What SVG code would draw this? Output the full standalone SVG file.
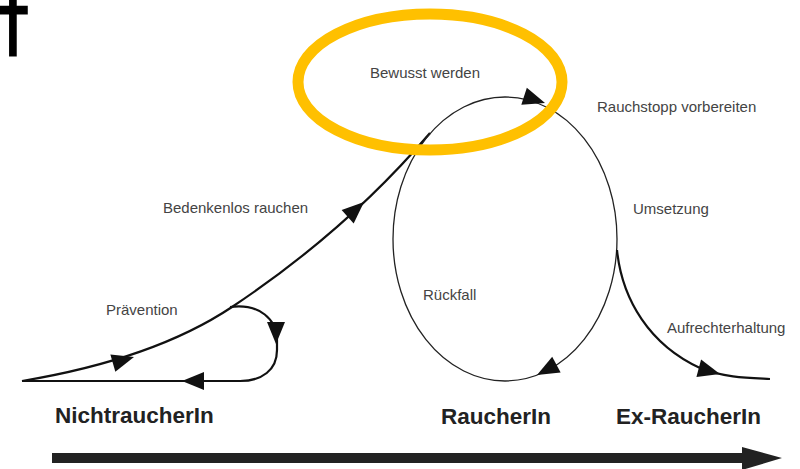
<svg xmlns="http://www.w3.org/2000/svg" width="800" height="469" viewBox="0 0 800 469">
<style>
.lbl{font-family:"Liberation Sans",Arial,sans-serif;font-size:15px;fill:#444}
.st{font-family:"Liberation Sans",Arial,sans-serif;font-size:22.5px;font-weight:bold;fill:#222}
.thick{fill:none;stroke:#111;stroke-width:2.2}
.thin{fill:none;stroke:#222;stroke-width:1.3}
.ah{fill:#111}
</style>
<defs>
<path id="ah" d="M0,0 L-22,-9 L-22,9 Z"/>
</defs>
<rect width="800" height="469" fill="#fff"/>
<g id="dagger"><text transform="translate(13,47) scale(0.8,1)" text-anchor="middle" style="font-family:'DejaVu Sans',sans-serif;font-size:77px;fill:#000;stroke:#000;stroke-width:3">†</text></g>
<g id="connectors">
<path class="thick" d="M22,381 C100,368 175,345 232,307 S360,215 430,133"/>
<ellipse class="thin" cx="505" cy="239" rx="112" ry="142"/>
<path class="thick" d="M230,307 C260,303 277,320 277,340 L277,350 C277,370 262,381 240,381 L22,381"/>
<path class="thick" d="M617,250 C622,300 650,345 700,368 C725,378 750,378 770,379"/>
<use href="#ah" class="ah" transform="translate(134,357) rotate(-16)"/>
<use href="#ah" class="ah" transform="translate(364,202) rotate(-42)"/>
<use href="#ah" class="ah" transform="translate(545,103) rotate(18)"/>
<use href="#ah" class="ah" transform="translate(276,344) rotate(90)"/>
<use href="#ah" class="ah" transform="translate(182,381) rotate(180)"/>
<use href="#ah" class="ah" transform="translate(537,375) rotate(152)"/>
<use href="#ah" class="ah" transform="translate(720,374) rotate(15)"/>
<path d="M52,453 L742,453 L742,447 L782,458 L742,470 L742,463 L52,463 Z" fill="#222"/>
</g>
<g id="highlight"><ellipse cx="430" cy="82" rx="132" ry="68" fill="none" stroke="#FFC000" stroke-width="11"/></g>
<g id="bewusst"><text class="lbl" x="370" y="78">Bewusst werden</text></g>
<g id="vorbereiten"><text class="lbl" x="597" y="112">Rauchstopp vorbereiten</text></g>
<g id="bedenkenlos"><text class="lbl" x="163" y="213">Bedenkenlos rauchen</text></g>
<g id="umsetzung"><text class="lbl" x="633" y="214">Umsetzung</text></g>
<g id="praevention"><text class="lbl" x="106" y="315">Prävention</text></g>
<g id="rueckfall"><text class="lbl" x="423" y="300">Rückfall</text></g>
<g id="aufrecht"><text class="lbl" x="667" y="333">Aufrechterhaltung</text></g>
<g id="nichtraucher"><text class="st" x="55" y="423">NichtraucherIn</text></g>
<g id="raucher"><text class="st" x="441" y="424">RaucherIn</text></g>
<g id="exraucher"><text class="st" x="616" y="424">Ex-RaucherIn</text></g>
</svg>
